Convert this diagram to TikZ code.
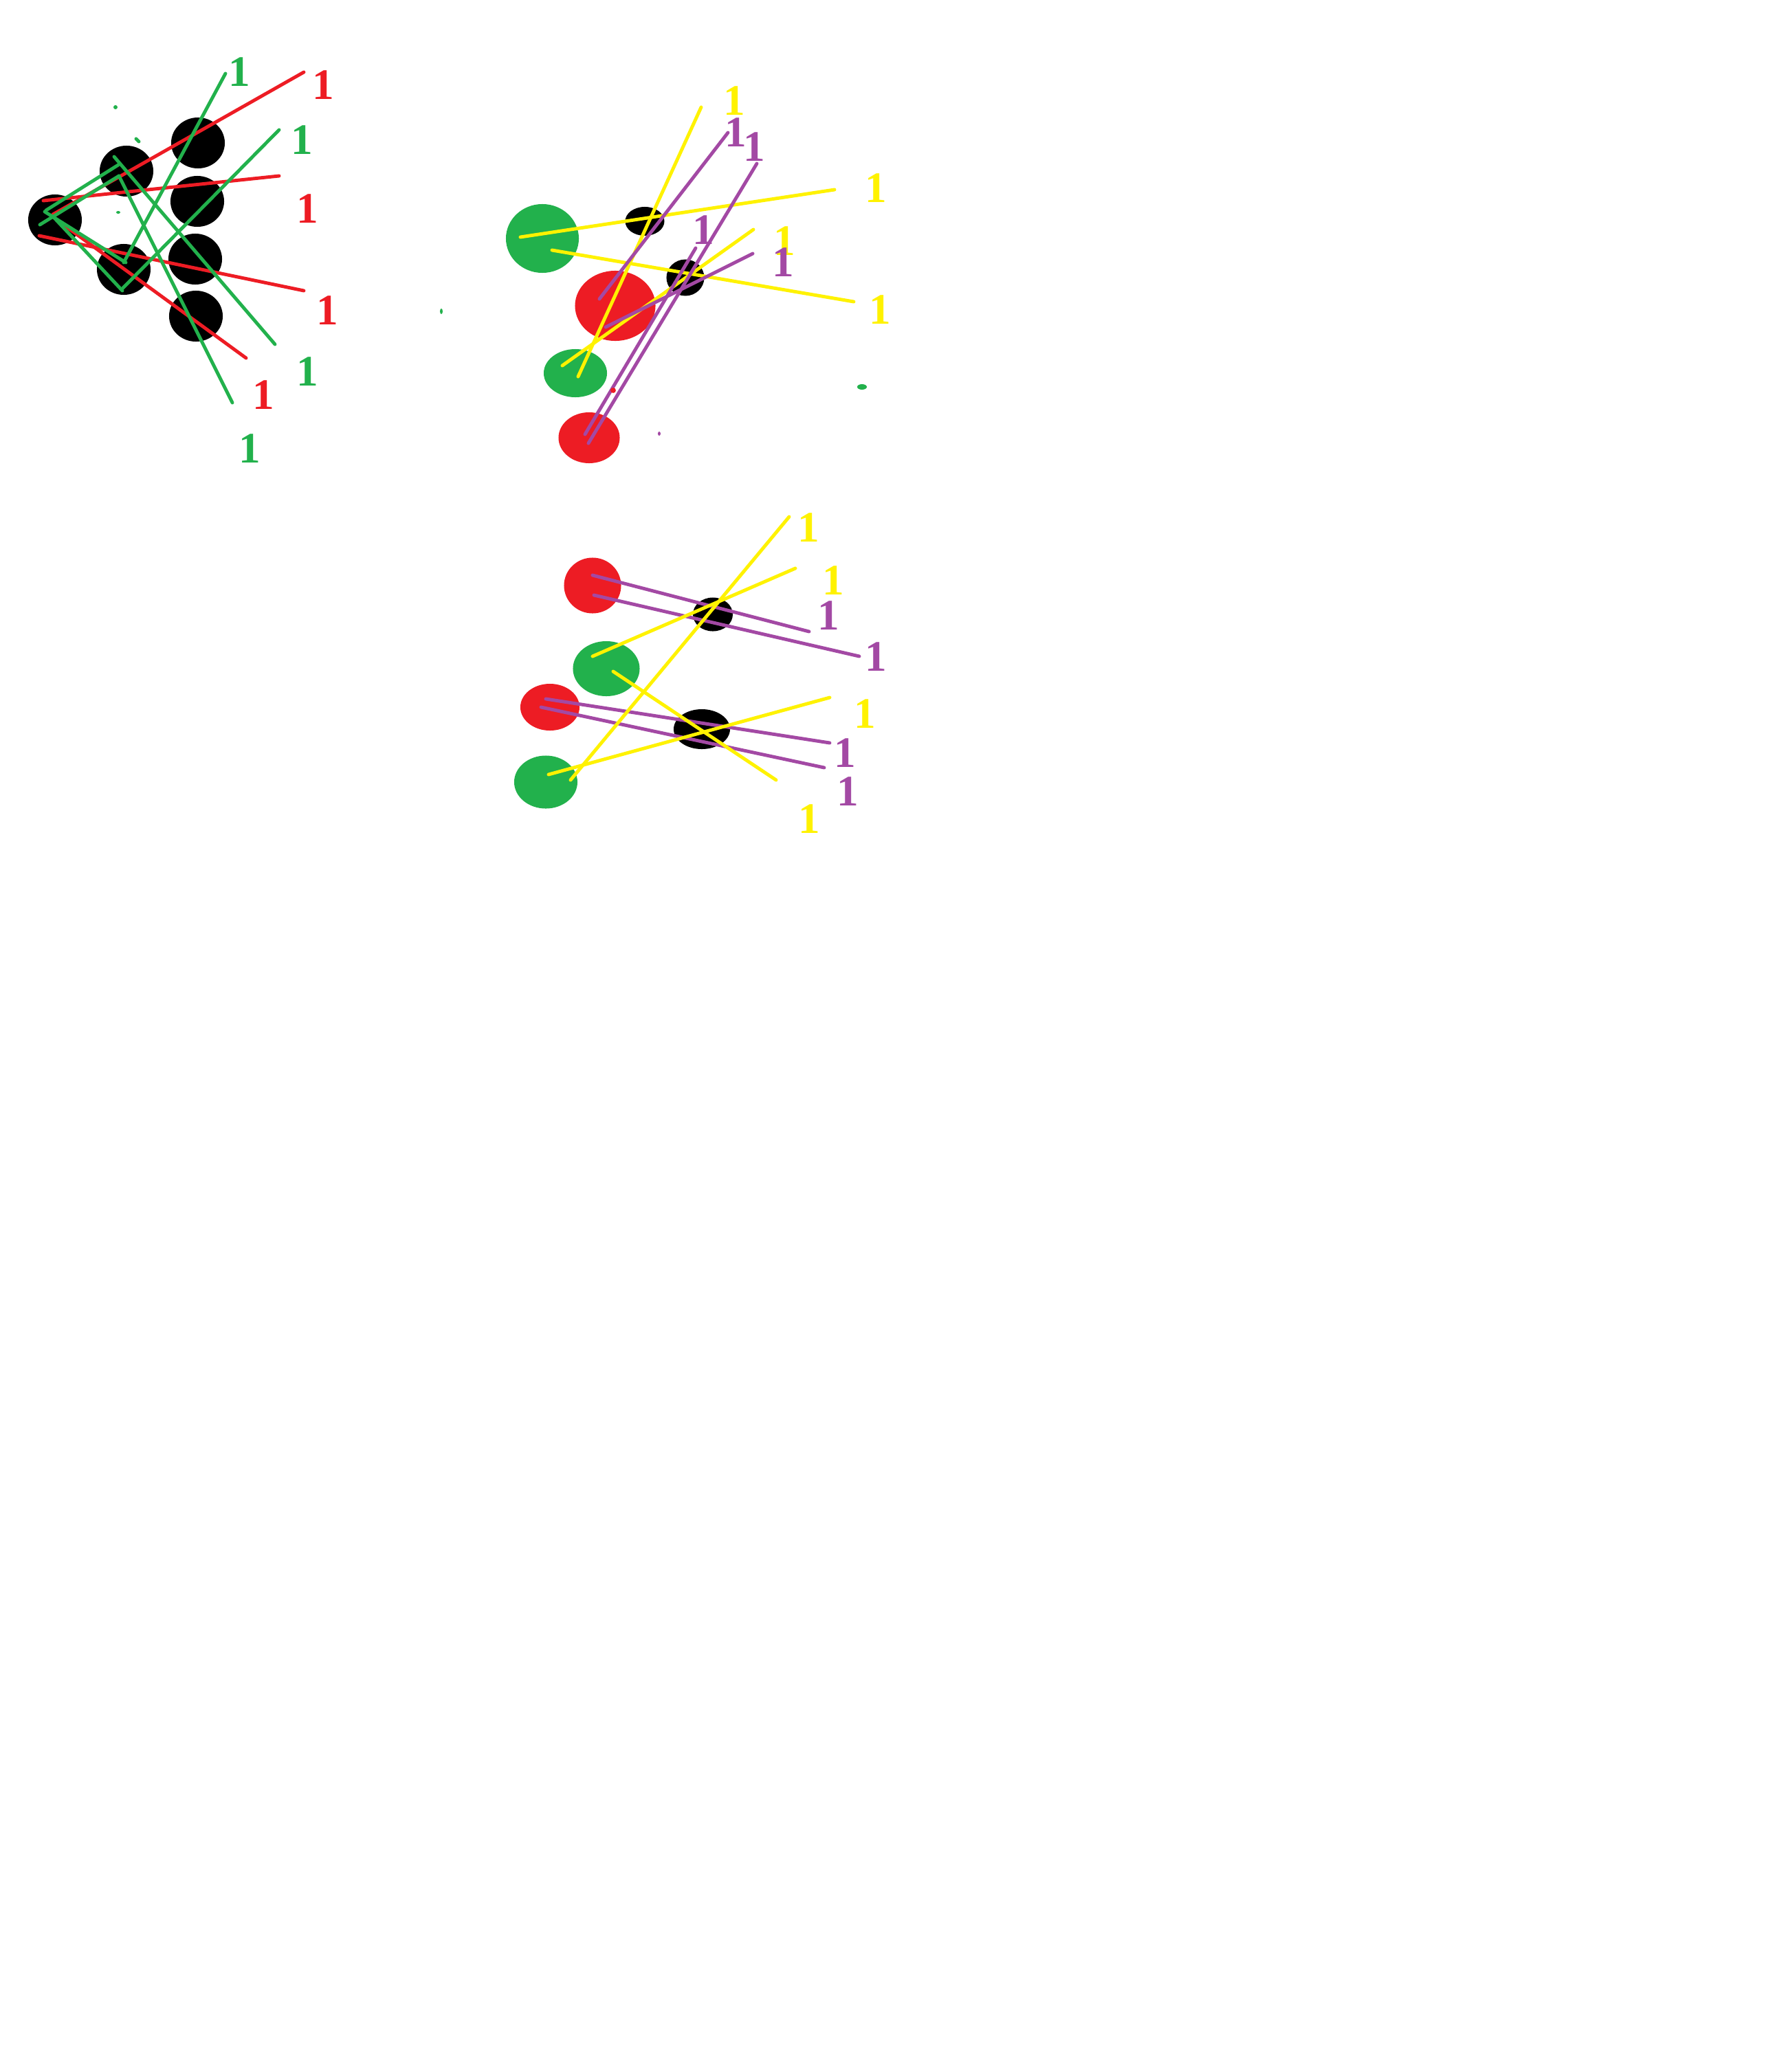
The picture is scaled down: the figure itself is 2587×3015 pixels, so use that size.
\documentclass[tikz,border=0pt]{standalone}
\usepackage{fontspec}
\setmainfont{Liberation Serif}
\usetikzlibrary{shapes.geometric}
\definecolor{pred}{HTML}{ED1C24}
\definecolor{pgreen}{HTML}{22B14C}
\definecolor{pyel}{HTML}{FFF200}
\definecolor{ppurp}{HTML}{A349A4}

\begin{document}
\begin{tikzpicture}[x=0.01cm, y=-0.01cm, line width=1.4pt, line cap=round,
  blob/.style={ellipse, inner sep=0pt, draw=none},
  lab/.style={font=\fontsize{18}{20}\selectfont\bfseries, inner sep=0pt}]
\useasboundingbox (0,0) rectangle (2587,3015);

% left group: black dots
\node[blob, fill=black, minimum width=0.78cm, minimum height=0.74cm] (k0) at (80,320) {};
\node[blob, fill=black, minimum width=0.78cm, minimum height=0.74cm] (k1) at (184,249) {};
\node[blob, fill=black, minimum width=0.78cm, minimum height=0.74cm] (k2) at (180,392) {};
\node[blob, fill=black, minimum width=0.78cm, minimum height=0.74cm] (k3) at (288,208) {};
\node[blob, fill=black, minimum width=0.78cm, minimum height=0.74cm] (k4) at (287,293) {};
\node[blob, fill=black, minimum width=0.78cm, minimum height=0.74cm] (k5) at (284,377) {};
\node[blob, fill=black, minimum width=0.78cm, minimum height=0.74cm] (k6) at (285,460) {};

\draw[pred] (77,312) -- (442,105);
\draw[pred] (63,292) -- (406,256);
\draw[pred] (57,343) -- (442,423);
\draw[pred] (80,318) -- (358,521);

\draw[pgreen] (67,306) -- (172,240);
\draw[pgreen] (58,327) -- (173,256);
\draw[pgreen] (65,308) -- (183,382);
\draw[pgreen] (78,316) -- (178,423);
\draw[pgreen] (180,382) -- (328,107);
\draw[pgreen] (177,421) -- (406,189);
\draw[pgreen] (166,228) -- (400,501);
\draw[pgreen] (173,256) -- (338,586);
\fill[pgreen] (168,156) circle (3);
\draw[pgreen] (198,202) -- (202,206);
\fill[pgreen] (172,309) ellipse [x radius=3, y radius=2];
\fill[pgreen] (642,453) ellipse [x radius=2, y radius=4];

\node[lab, text=pred] (r1) at (470,124) {1};
\node[lab, text=pred] (r2) at (447,304) {1};
\node[lab, text=pred] (r3) at (476,452) {1};
\node[lab, text=pred] (r4) at (383,575) {1};
\node[lab, text=pgreen] (g1) at (348,105) {1};
\node[lab, text=pgreen] (g2) at (439,204) {1};
\node[lab, text=pgreen] (g3) at (447,541) {1};
\node[lab, text=pgreen] (g4) at (363,653) {1};

% upper right group
\node[blob, fill=pgreen, minimum width=1.06cm, minimum height=1.0cm] (a1) at (789,347) {};
\node[blob, fill=black, minimum width=0.57cm, minimum height=0.42cm] (a2) at (938,322) {};
\node[blob, fill=pred, minimum width=1.17cm, minimum height=1.02cm] (a3) at (895,445) {};
\node[blob, fill=black, minimum width=0.55cm, minimum height=0.53cm] (a4) at (997,404) {};
\node[blob, fill=pgreen, minimum width=0.92cm, minimum height=0.70cm] (a5) at (837,543) {};
\node[blob, fill=pred, minimum width=0.89cm, minimum height=0.74cm] (a6) at (857,637) {};

\draw[pyel] (757,345) -- (1214,276);
\draw[pyel] (803,364) -- (1242,439);
\draw[pyel] (841,548) -- (1020,156);
\draw[pyel] (818,532) -- (1096,334);
\draw[ppurp] (872,435) -- (1059,193);
\draw[ppurp] (856,645) -- (1101,238);
\draw[ppurp] (851,632) -- (1012,361);
\draw[ppurp] (881,476) -- (1095,369);
\draw[pred, line width=1pt] (892,568) circle (2);
\fill[ppurp] (959,631) ellipse [x radius=2, y radius=3];
\fill[pgreen] (1254,563) ellipse [x radius=7, y radius=4];

\node[lab, text=pyel] (y1) at (1068,147) {1};
\node[lab, text=pyel] (y2) at (1274,274) {1};
\node[lab, text=pyel] (y3) at (1141,351) {1};
\node[lab, text=pyel] (y4) at (1280,451) {1};
\node[lab, text=ppurp] (p1) at (1070,193) {1};
\node[lab, text=ppurp] (p2) at (1097,214) {1};
\node[lab, text=ppurp] (p3) at (1023,335) {1};
\node[lab, text=ppurp] (p4) at (1139,382) {1};

% lower right group
\node[blob, fill=pred, minimum width=0.83cm, minimum height=0.81cm] (b1) at (862,852) {};
\node[blob, fill=black, minimum width=0.58cm, minimum height=0.49cm] (b2) at (1037,894) {};
\node[blob, fill=pgreen, minimum width=0.97cm, minimum height=0.80cm] (b3) at (882,973) {};
\node[blob, fill=pred, minimum width=0.86cm, minimum height=0.68cm] (b4) at (800,1029) {};
\node[blob, fill=black, minimum width=0.82cm, minimum height=0.58cm] (b5) at (1021,1061) {};
\node[blob, fill=pgreen, minimum width=0.92cm, minimum height=0.77cm] (b6) at (794,1138) {};

\draw[ppurp] (862,837) -- (1177,919);
\draw[ppurp] (864,866) -- (1250,955);
\draw[ppurp] (794,1017) -- (1207,1081);
\draw[ppurp] (787,1029) -- (1199,1117);
\draw[pyel] (830,1135) -- (1148,752);
\draw[pyel] (862,955) -- (1157,827);
\draw[pyel] (892,977) -- (1129,1135);
\draw[pyel] (798,1127) -- (1207,1015);

\node[lab, text=pyel] (y5) at (1176,768) {1};
\node[lab, text=pyel] (y6) at (1212,845) {1};
\node[lab, text=pyel] (y7) at (1258,1039) {1};
\node[lab, text=pyel] (y8) at (1177,1192) {1};
\node[lab, text=ppurp] (p5) at (1205,896) {1};
\node[lab, text=ppurp] (p6) at (1274,956) {1};
\node[lab, text=ppurp] (p7) at (1229,1096) {1};
\node[lab, text=ppurp] (p8) at (1233,1152) {1};
\end{tikzpicture}
\end{document}
